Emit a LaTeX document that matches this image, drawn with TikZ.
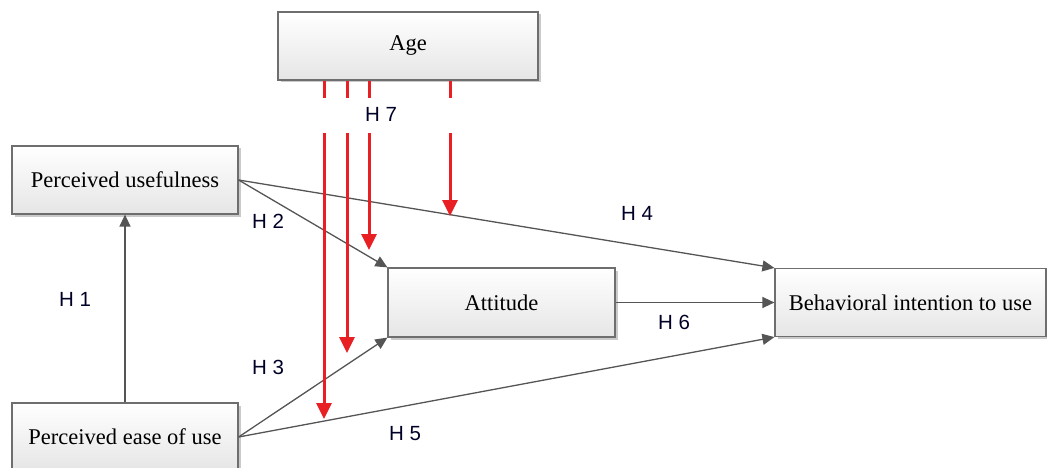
\documentclass[tikz,border=0pt]{standalone}
\usepackage{fontspec}
\setmainfont{Liberation Serif}
\setsansfont{Liberation Sans}
\usetikzlibrary{arrows.meta,shadows}
\definecolor{redline}{RGB}{232,32,36}
\definecolor{grayline}{RGB}{85,85,85}
\definecolor{boxborder}{RGB}{110,110,110}
\tikzset{
  box/.style={draw=boxborder, line width=1.2pt, top color=white, bottom color=black!10,
    drop shadow={shadow xshift=2.5pt, shadow yshift=-2.5pt, fill=black!35, opacity=0.6},
    font=\fontsize{22.5}{26}\selectfont, inner sep=0pt},
  link/.style={draw=grayline, line width=1.3pt, -{Triangle[length=12pt,width=11pt]}},
  modlink/.style={draw=redline, line width=3pt},
  modarrow/.style={draw=redline, line width=3pt, -{Triangle[length=16pt,width=15pt]}},
  hlabel/.style={font=\sffamily\fontsize{20.5}{24}\selectfont, text=black!85!blue, inner sep=0pt}
}
\begin{document}
\begin{tikzpicture}[x=1pt,y=-1pt]
\useasboundingbox (0,0) rectangle (1047,468);
\node[box, minimum width=260pt, minimum height=68pt] (age) at (408,46) {Age};
\node[box, minimum width=226pt, minimum height=68pt] (pu) at (125,180) {Perceived usefulness};
\node[box, minimum width=227pt, minimum height=69pt] (att) at (501.5,302.5) {Attitude};
\node[box, minimum width=271pt, minimum height=68pt] (bi) at (910.5,302.5) {Behavioral intention to use};
\node[box, minimum width=226pt, minimum height=68pt] (peou) at (125,437) {Perceived ease of use};

\draw[link] (peou.north) -- (pu.south);
\draw[link] (pu.east) -- (att.north west);
\draw[link] (pu.east) -- (bi.north west);
\draw[link] (peou.east) -- (att.south west);
\draw[link] (peou.east) -- (bi.south west);
\draw[link] (att.east) -- (bi.west);

% moderator arrows from Age
\coordinate (r1a) at (324,98);  \coordinate (r1b) at (324,133); \coordinate (r1t) at (324,419);
\coordinate (r2a) at (347,98);  \coordinate (r2b) at (347,133); \coordinate (r2t) at (347,353);
\coordinate (r3a) at (369,98);  \coordinate (r3b) at (369,133); \coordinate (r3t) at (369,250);
\coordinate (r4a) at (450,98);  \coordinate (r4b) at (450,133); \coordinate (r4t) at (450,216);
\foreach \r in {r1,r2,r3,r4}{
  \draw[modlink] (age.south -| \r a) -- (\r a);
  \draw[modarrow] (\r b) -- (\r t);
}

\node[hlabel] (h7) at (381,114) {H 7};
\node[hlabel] (h2) at (268,221) {H 2};
\node[hlabel] (h4) at (637,213) {H 4};
\node[hlabel] (h1) at (75,299) {H 1};
\node[hlabel] (h3) at (268,367) {H 3};
\node[hlabel] (h6) at (674,322) {H 6};
\node[hlabel] (h5) at (405,434) {H 5};
\end{tikzpicture}
\end{document}
